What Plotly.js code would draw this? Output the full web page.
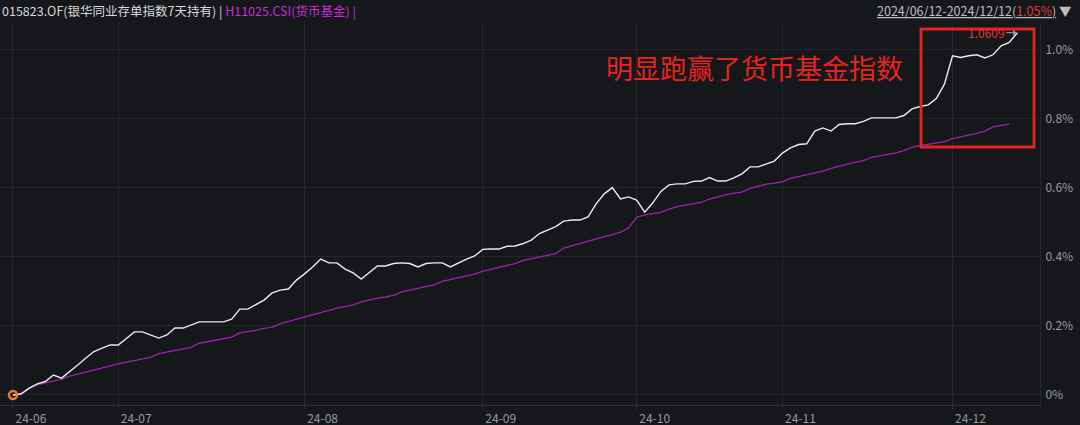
<!DOCTYPE html>
<html><head><meta charset="utf-8">
<script src="https://cdn.plot.ly/plotly-3.0.1.min.js"></script>
<style>html,body{margin:0;padding:0;background:#15171b;}#c{width:1080px;height:425px;}</style>
</head><body><div id="c"></div>
<script>
// trading days 2024-06-12 .. 2024-12-12
const dates = [
'2024-06-12','2024-06-13','2024-06-14','2024-06-17','2024-06-18','2024-06-19','2024-06-20','2024-06-21','2024-06-24','2024-06-25','2024-06-26','2024-06-27','2024-06-28',
'2024-07-01','2024-07-02','2024-07-03','2024-07-04','2024-07-05','2024-07-08','2024-07-09','2024-07-10','2024-07-11','2024-07-12','2024-07-15','2024-07-16','2024-07-17','2024-07-18','2024-07-19','2024-07-22','2024-07-23','2024-07-24','2024-07-25','2024-07-26','2024-07-29','2024-07-30','2024-07-31',
'2024-08-01','2024-08-02','2024-08-05','2024-08-06','2024-08-07','2024-08-08','2024-08-09','2024-08-12','2024-08-13','2024-08-14','2024-08-15','2024-08-16','2024-08-19','2024-08-20','2024-08-21','2024-08-22','2024-08-23','2024-08-26','2024-08-27','2024-08-28','2024-08-29','2024-08-30',
'2024-09-02','2024-09-03','2024-09-04','2024-09-05','2024-09-06','2024-09-09','2024-09-10','2024-09-11','2024-09-12','2024-09-13','2024-09-18','2024-09-19','2024-09-20','2024-09-23','2024-09-24','2024-09-25','2024-09-26','2024-09-27','2024-09-30',
'2024-10-08','2024-10-09','2024-10-10','2024-10-11','2024-10-14','2024-10-15','2024-10-16','2024-10-17','2024-10-18','2024-10-21','2024-10-22','2024-10-23','2024-10-24','2024-10-25','2024-10-28','2024-10-29','2024-10-30','2024-10-31',
'2024-11-01','2024-11-04','2024-11-05','2024-11-06','2024-11-07','2024-11-08','2024-11-11','2024-11-12','2024-11-13','2024-11-14','2024-11-15','2024-11-18','2024-11-19','2024-11-20','2024-11-21','2024-11-22','2024-11-25','2024-11-26','2024-11-27','2024-11-28','2024-11-29',
'2024-12-02','2024-12-03','2024-12-04','2024-12-05','2024-12-06','2024-12-09','2024-12-10','2024-12-11','2024-12-12'
];

// 015823.OF cumulative return (%)
const fundReturn = [
0.000,0.003,0.020,0.032,0.039,0.058,0.049,0.067,0.087,0.107,0.126,0.136,0.145,
0.145,0.163,0.183,0.183,0.174,0.165,0.174,0.194,0.194,0.203,0.212,0.212,0.212,0.212,0.220,0.249,0.249,0.261,0.275,0.296,0.304,0.307,0.333,
0.351,0.371,0.394,0.383,0.383,0.365,0.354,0.336,0.355,0.374,0.374,0.381,0.383,0.381,0.371,0.381,0.383,0.383,0.371,0.383,0.394,0.403,
0.422,0.423,0.423,0.431,0.432,0.439,0.449,0.468,0.478,0.488,0.504,0.507,0.507,0.516,0.554,0.583,0.601,0.568,0.574,
0.565,0.530,0.557,0.590,0.609,0.612,0.612,0.619,0.620,0.630,0.620,0.620,0.629,0.641,0.661,0.661,0.670,0.678,
0.701,0.716,0.726,0.728,0.765,0.774,0.765,0.784,0.786,0.786,0.793,0.803,0.803,0.803,0.803,0.810,0.829,0.836,0.841,0.859,0.901,
0.983,0.978,0.983,0.986,0.977,0.986,1.012,1.022,1.050
];

// H11025.CSI money fund index cumulative return (%)
const indexReturn = [
0.000,0.005,0.019,0.029,0.035,0.041,0.046,0.055,0.061,0.067,0.073,0.080,0.085,
0.090,0.095,0.099,0.103,0.109,0.120,0.125,0.129,0.133,0.138,0.150,0.154,0.159,0.162,0.168,0.180,0.183,0.187,0.193,0.197,0.207,0.213,0.220,
0.225,0.232,0.239,0.245,0.252,0.256,0.261,0.270,0.276,0.281,0.284,0.289,0.299,0.304,0.310,0.313,0.319,0.329,0.334,0.339,0.344,0.350,
0.359,0.364,0.369,0.375,0.381,0.390,0.395,0.400,0.404,0.410,0.426,0.433,0.438,0.447,0.454,0.459,0.465,0.472,0.484,
0.515,0.522,0.525,0.529,0.539,0.546,0.550,0.554,0.558,0.568,0.575,0.580,0.585,0.588,0.599,0.606,0.611,0.614,
0.618,0.628,0.633,0.638,0.643,0.649,0.657,0.664,0.669,0.674,0.679,0.689,0.693,0.697,0.702,0.708,0.718,0.723,0.727,0.730,0.734,
0.743,0.749,0.753,0.758,0.765,0.777,0.781,0.785,null
];

const xTickVals = ['2024-06-12','2024-07-01','2024-08-01','2024-09-02','2024-10-08','2024-11-01','2024-12-02'];
const xTickText = ['24-06','24-07','24-08','24-09','24-10','24-11','24-12'];
const yTickVals = [0,0.2,0.4,0.6,0.8,1.0];
const yTickText = ['0%','0.2%','0.4%','0.6%','0.8%','1.0%'];
const lastNav = '1.0609';

const FONT = '"Noto Sans CJK SC","Noto Sans",sans-serif';
const BG = '#15171b';
const W = 1040; // plot width px
const H = 383;  // plot height px
const px = v => v / W;
const py = v => (405 - v) / H;

const traces = [
  {x: dates, y: indexReturn, type:'scatter', mode:'lines', line:{color:'#9c22b0', width:1.3}, hoverinfo:'skip'},
  {x: dates, y: fundReturn, type:'scatter', mode:'lines', line:{color:'#ececec', width:1.4}, hoverinfo:'skip'},
  {x: [dates[0]], y: [fundReturn[0]], type:'scatter', mode:'markers',
   marker:{symbol:'circle-open', size:8, color:'#f0782a', line:{color:'#f0782a', width:2.5}}, hoverinfo:'skip'}
];

const layout = {
  width:1080, height:425,
  margin:{l:0, r:40, t:22, b:20},
  paper_bgcolor: BG, plot_bgcolor: BG,
  showlegend:false,
  font:{family:FONT, color:'#9a9a9a', size:12},
  xaxis:{
    type:'category', range:[-1.6, 126.8],
    tickvals:xTickVals, ticktext:xTickText,
    showgrid:true, gridcolor:'#24272c', gridwidth:1,
    showline:true, linecolor:'#2c2f34', linewidth:1,
    ticks:'outside', ticklen:3, tickcolor:'#2c2f34',
    tickfont:{family:FONT, size:12, color:'#9a9a9a'},
    ticklabelshift:18, ticklabelstandoff:0,
    zeroline:false, fixedrange:true
  },
  yaxis:{
    side:'right', range:[-0.029, 1.081],
    tickvals:yTickVals, ticktext:yTickText,
    showgrid:true, gridcolor:'#212429', gridwidth:1,
    showline:true, linecolor:'#24272c', linewidth:1,
    ticks:'', ticklabelstandoff:2,
    tickfont:{family:FONT, size:12, color:'#9a9a9a'},
    zeroline:false, fixedrange:true
  },
  shapes:[
    {type:'rect', xref:'paper', yref:'paper', x0:px(921), x1:px(1034), y0:py(147), y1:py(29),
     line:{color:'#e8231e', width:2.8}, fillcolor:'rgba(0,0,0,0)'}
  ],
  annotations:[
    {xref:'paper', yref:'paper', x:0, y:py(10), xanchor:'left', yanchor:'middle', showarrow:false,
     text:'015823.OF(银华同业存单指数7天持有) | <span style="color:#c62fd6">H11025.CSI(货币基金) |</span>',
     font:{family:FONT, size:12.5, color:'#d8d8d8'}},
    {xref:'paper', yref:'paper', x:px(1074), y:py(10), xanchor:'right', yanchor:'middle', showarrow:false,
     text:'<u>2024/06/12-2024/12/12(<span style="color:#e03a3a">1.05%</span>)</u> ▼',
     font:{family:FONT, size:12.5, color:'#bdbdbd'}},
    {xref:'paper', yref:'paper', x:px(754), y:py(67), xanchor:'center', yanchor:'middle', showarrow:false,
     text:'明显跑赢了货币基金指数', font:{family:FONT, size:27, color:'#e8231e'}},
    {x: dates[dates.length-1], y: fundReturn[fundReturn.length-1], xref:'x', yref:'y',
     text:lastNav, showarrow:true, ax:-31, ay:0, arrowhead:1, arrowsize:1, arrowwidth:1,
     arrowcolor:'#a8a8a8', standoff:1, font:{family:FONT, size:12, color:'#e0363a'}}
  ]
};

Plotly.newPlot('c', traces, layout, {displayModeBar:false, staticPlot:true});
</script></body></html>
